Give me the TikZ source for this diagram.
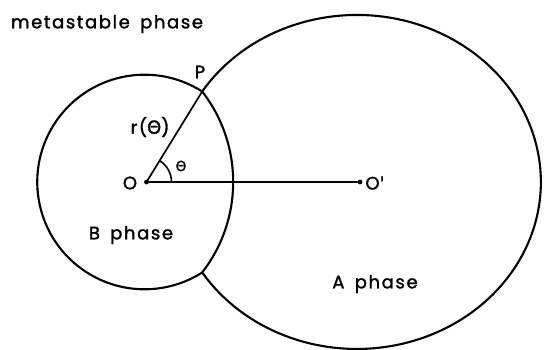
\documentclass[tikz,border=0pt]{standalone}
\usepackage{fontspec}
\setmainfont{Poppins}[LetterSpace=9,FakeBold=1.6,WordSpace=1.6]
\newfontfamily\grk{DejaVu Sans}[FakeBold=1.2]
\begin{document}
\begin{tikzpicture}[x=1pt,y=1pt,
  bound/.style={line width=2.1pt},
  axis/.style={line width=1.7pt},
  lbl/.style={font=\fontsize{18}{20}\selectfont, inner sep=0pt},
  dot/.style={circle, fill=black, inner sep=0pt, minimum size=4.8pt}]
\useasboundingbox (0,0) rectangle (544,349);
% key points
\coordinate (P) at (202.2,257.5);
\coordinate (Q) at (202.2,76.5);
\node[dot] (O) at (146.5,167) {};
\node[dot] (Op) at (360,167) {};
% B / metastable interface
\draw[bound] (P) arc[start angle=57.5, end angle=302.5, radius=107.3pt];
% A / B interface
\draw[bound] (P) arc[start angle=37.8, end angle=-37.8, radius=147.6pt];
% A / metastable interface
\draw[bound] (P) arc[start angle=147.2, end angle=-147.2, x radius=184pt, y radius=167pt];
% radius and axis
\draw[axis] (O.center) -- (P);
\draw[axis] (O.center) -- (Op.center);
\draw[line width=1.6pt] ([shift={(0:25pt)}]O.center) arc[start angle=0, end angle=58.7, radius=25pt];
% labels
\node[lbl] (meta) at (107,325) {metastable phase};
\node[lbl] (lP) at (200,277) {P};
\node[lbl] (lr) at (150,222) {r({\grk Θ})};
\node[lbl, font=\fontsize{14}{16}\selectfont\grk] (lth) at (181,183) {Θ};
\node[lbl] (lO) at (130,166) {O};
\node[lbl] (lOp) at (375,166) {O{\grk\char"27}};
\node[lbl] (lB) at (131,114) {B phase};
\node[lbl] (lA) at (375,65) {A phase};
\end{tikzpicture}
\end{document}
